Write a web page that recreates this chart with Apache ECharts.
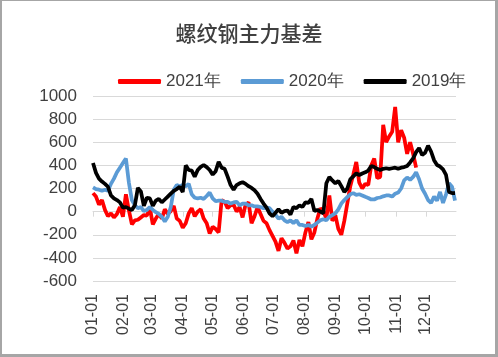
<!DOCTYPE html>
<html>
<head>
<meta charset="utf-8">
<script src="https://cdn.jsdelivr.net/npm/echarts@6/dist/echarts.min.js"></script>
<style>
html,body{margin:0;padding:0;background:#fff;}
#c{width:498px;height:357px;}
</style>
</head>
<body>
<div id="c"></div>
<script>
var title = '螺纹钢主力基差';
var seriesNames = ['2021年', '2020年', '2019年'];
var yTicks = { min: -600, max: 1000, step: 200 };

var sampleDates = ['01-01','01-04','01-07','01-10','01-13','01-16','01-19','01-22','01-25','01-28','01-31',
'02-03','02-06','02-09','02-12','02-15','02-18','02-21','02-24','02-27',
'03-02','03-05','03-08','03-11','03-14','03-17','03-20','03-23','03-26','03-29',
'04-01','04-04','04-07','04-10','04-13','04-16','04-19','04-22','04-25','04-28',
'05-01','05-04','05-07','05-10','05-13','05-16','05-19','05-22','05-25','05-28','05-31',
'06-03','06-06','06-09','06-12','06-15','06-18','06-21','06-24','06-27','06-30',
'07-03','07-06','07-09','07-12','07-15','07-18','07-21','07-24','07-27','07-30',
'08-02','08-05','08-08','08-11','08-14','08-17','08-20','08-23','08-26','08-29',
'09-01','09-04','09-07','09-10','09-13','09-16','09-19','09-22','09-25','09-28',
'10-01','10-04','10-07','10-10','10-13','10-16','10-19','10-22','10-25','10-28','10-31',
'11-03','11-06','11-09','11-12','11-15','11-18','11-21','11-24','11-27','11-30',
'12-03','12-06','12-09','12-12','12-15','12-18','12-21','12-24','12-27','12-30'];

var basis2021 = [160,130,60,100,15,-40,-15,-50,-20,40,-45,
150,10,-110,-75,-70,-50,-30,-35,30,
-110,-60,-20,-60,20,-20,5,50,-60,-80,
-140,-100,-15,30,-40,0,20,-60,-100,-190,
-130,-150,-180,100,85,30,55,60,0,40,-50,
60,80,-100,-40,40,-20,-80,-100,-160,-210,
-260,-340,-230,-270,-320,-300,-250,-360,-245,-300,
-180,-90,-240,-180,-60,30,0,-60,140,-80,
-30,-150,-200,-80,70,220,320,430,250,200,
240,230,400,460,290,300,750,600,650,690,905,
600,705,640,500,600,500,380];

var basis2020 = [210,195,190,180,190,180,240,285,340,380,420,
460,250,100,55,30,40,5,15,40,
15,-5,-20,-45,-85,-45,40,190,230,220,
230,220,240,150,120,115,120,110,135,165,
115,90,95,95,85,85,70,80,85,55,70,
70,55,55,45,45,40,30,35,30,0,
-25,-60,-45,-75,-90,-75,-100,-75,-115,-115,
-125,-115,-130,-115,-95,-75,-65,-75,-45,-30,
-15,20,70,100,125,150,160,145,150,140,
128,118,105,105,118,122,132,140,140,130,155,
165,200,270,295,275,300,340,280,200,155,
100,75,130,95,170,75,150,245,216,95];

var basis2019 = [420,335,285,260,240,215,140,115,100,80,35,
40,25,15,55,205,175,50,120,115,
50,95,110,80,105,130,155,180,195,215,
170,400,360,355,302,360,387,403,385,360,
320,350,430,380,370,302,230,190,230,245,255,
240,220,205,185,155,110,70,35,-15,-40,
-10,20,-10,5,10,-25,40,30,55,40,
80,75,110,5,15,0,-15,245,300,270,
245,265,220,170,200,280,305,330,317,330,
340,355,395,385,370,360,370,375,370,375,380,
370,380,385,395,425,460,515,550,490,510,
570,520,445,403,390,365,317,170,160,160];

// full-year day categories (axis only)
var allDays = [];
(function(){
  var lens = [31,28,31,30,31,30,31,31,30,31,30,31];
  for (var m = 0; m < 12; m++) {
    for (var d = 1; d <= lens[m]; d++) {
      allDays.push((m < 9 ? '0' : '') + (m + 1) + '-' + (d < 10 ? '0' : '') + d);
    }
  }
})();

function pairs(vals) {
  var out = [];
  for (var i = 0; i < vals.length; i++) out.push([sampleDates[i], vals[i]]);
  return out;
}
function isMonthStart(idx, val) { return /-01$/.test(val); }

var textColor = '#404040';
var gridColor = '#D9D9D9';
var font = '"Liberation Sans", Arial, sans-serif';

var chart = echarts.init(document.getElementById('c'), null, { renderer: 'canvas' });
chart.setOption({
  animation: false,
  backgroundColor: '#ffffff',
  title: {
    text: title, left: 'center', top: 18,
    textStyle: { fontFamily: '"Noto Sans CJK SC", sans-serif', fontSize: 21, fontWeight: 500, color: textColor }
  },
  legend: {
    data: seriesNames, top: 68, left: 113,
    icon: 'roundRect', itemWidth: 43, itemHeight: 5, itemGap: 20,
    textStyle: { fontFamily: font, fontSize: 17, color: textColor }
  },
  grid: { left: 93, right: 42, top: 96, bottom: 76, containLabel: false },
  xAxis: [{
    type: 'category', data: allDays, boundaryGap: false,
    axisLine: { show: true, onZero: true, lineStyle: { color: gridColor, width: 1 } },
    axisTick: { show: true, interval: isMonthStart, length: 5, lineStyle: { color: gridColor } },
    axisLabel: { show: false },
    splitLine: { show: false }
  }, {
    type: 'category', data: allDays, boundaryGap: false, position: 'bottom',
    axisLine: { show: false, onZero: false },
    axisTick: { show: false },
    axisLabel: { show: true, interval: isMonthStart, rotate: 90, margin: 13,
      fontFamily: font, fontSize: 16, color: textColor },
    splitLine: { show: false }
  }],
  yAxis: {
    type: 'value', min: yTicks.min, max: yTicks.max, interval: yTicks.step,
    axisLine: { show: false }, axisTick: { show: false },
    axisLabel: { fontFamily: font, fontSize: 17, color: textColor, margin: 16,
      formatter: function (v) { return String(v); } },
    splitLine: { lineStyle: { color: gridColor, width: 1 } }
  },
  graphic: [
    { type: 'rect', shape: { x: 0, y: 0, width: 2, height: 357 }, style: { fill: '#A6A6A6' }, silent: true },
    { type: 'rect', shape: { x: 0, y: 0, width: 498, height: 1 }, style: { fill: '#A6A6A6' }, silent: true },
    { type: 'rect', shape: { x: 495, y: 0, width: 3, height: 357 }, style: { fill: '#A6A6A6' }, silent: true },
    { type: 'rect', shape: { x: 0, y: 354, width: 498, height: 3 }, style: { fill: '#A6A6A6' }, silent: true }
  ],
  series: [
    { name: seriesNames[0], type: 'line', data: pairs(basis2021), showSymbol: false, symbol: 'none',
      lineStyle: { color: '#FF0000', width: 3.75 }, itemStyle: { color: '#FF0000' }, z: 2 },
    { name: seriesNames[1], type: 'line', data: pairs(basis2020), showSymbol: false, symbol: 'none',
      lineStyle: { color: '#5B9BD5', width: 3.75 }, itemStyle: { color: '#5B9BD5' }, z: 3 },
    { name: seriesNames[2], type: 'line', data: pairs(basis2019), showSymbol: false, symbol: 'none',
      lineStyle: { color: '#000000', width: 3.75 }, itemStyle: { color: '#000000' }, z: 4 }
  ]
});
</script>
</body>
</html>
